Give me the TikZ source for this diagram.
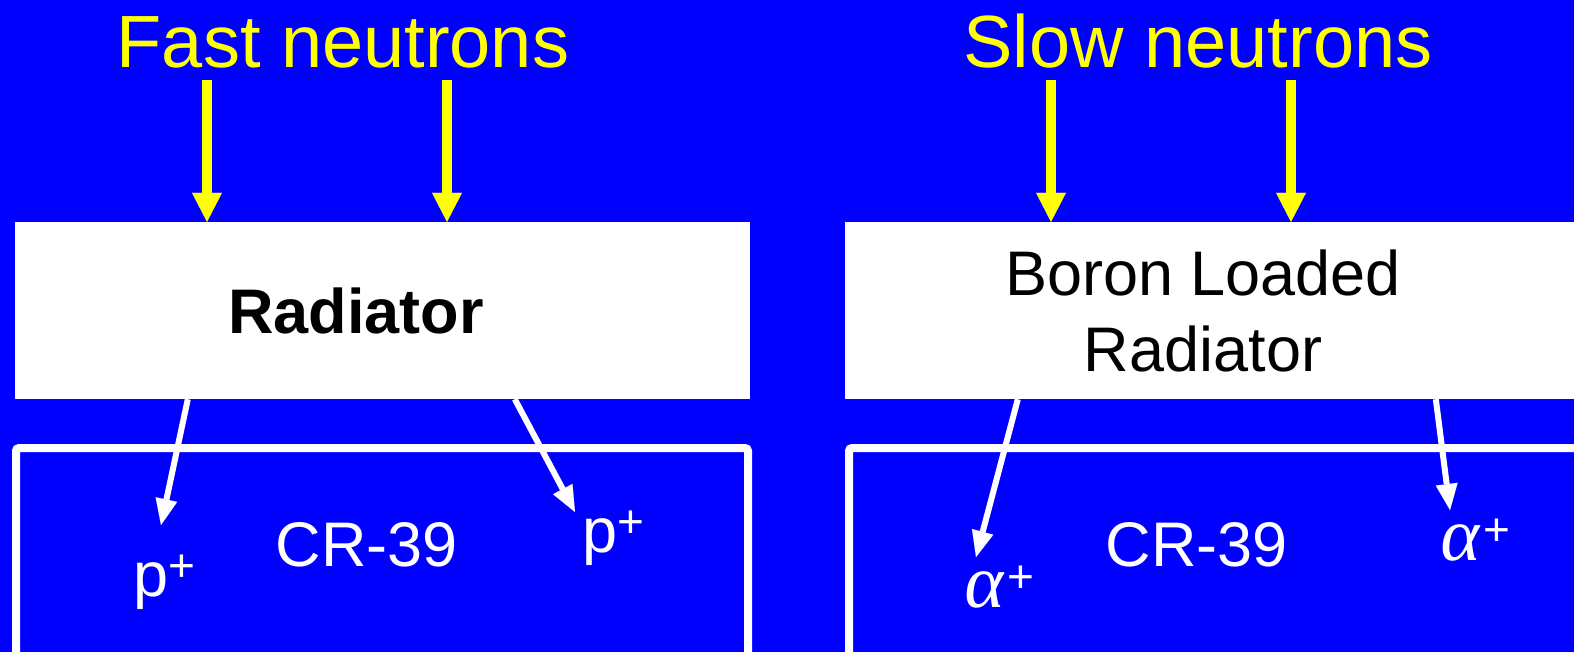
\documentclass[tikz,border=0pt]{standalone}
\usepackage{fontspec}
\setmainfont{Liberation Sans}
\newfontfamily\greekfont[FakeSlant=0.12]{Liberation Serif}
\usetikzlibrary{arrows.meta}
\definecolor{slideblue}{RGB}{0,0,255}
\definecolor{slideyellow}{RGB}{255,255,0}
\newcommand{\ionplus}{\raisebox{15pt}{\fontsize{46}{48}\selectfont +}}
\newcommand{\alphasym}{{\greekfont\fontsize{76}{80}\selectfont α}\kern5pt}
\tikzset{
  radbox/.style={fill=white, inner sep=0pt, minimum height=177pt},
  boxtext/.style={align=center, inner sep=0pt, font=\fontsize{63}{76}\selectfont},
  detbox/.style={draw=white, line width=8pt, rounded corners=3pt},
  inflow/.style={draw=slideyellow, line width=10pt, -{Triangle[length=29pt,width=30pt,line width=0.01pt]}},
  outflow/.style={draw=white, line width=6pt, -{Triangle[length=26pt,width=22pt,line width=0.01pt]}},
  heading/.style={text=slideyellow, font=\fontsize{74}{80}\selectfont, anchor=base, inner sep=0pt},
  lbl/.style={text=white, font=\fontsize{63}{70}\selectfont, inner sep=0pt},
}
\begin{document}
\begin{tikzpicture}[x=1pt,y=-1pt]
\path[use as bounding box, fill=slideblue] (0,0) rectangle (1574,652);
% headings
\node[heading] (t1) at (343,68) {Fast neutrons};
\node[heading] (t2) at (1198,68) {Slow neutrons};
% radiators
\node[radbox, minimum width=735pt] (a) at (382.5,310.5) {};
\node[radbox, minimum width=729pt] (b) at (1209.5,310.5) {};
\node[boxtext, font=\fontsize{63}{76}\selectfont\bfseries] (ta) at (356,310.5) {Radiator};
\node[boxtext] (tb) at (1203,310.5) {Boron Loaded\\Radiator};
% CR-39 detectors
\draw[detbox] (16,448) rectangle (748,720);
\draw[detbox] (849,448) rectangle (1620,720);
\node[lbl] (c1) at (367,545) {CR-39};
\node[lbl] (c2) at (1197,545) {CR-39};
% incoming neutrons
\coordinate (f1) at (207,80);
\coordinate (f2) at (447,80);
\coordinate (s1) at (1051,80);
\coordinate (s2) at (1291,80);
\draw[inflow] (f1) -- (f1 |- a.north);
\draw[inflow] (f2) -- (f2 |- a.north);
\draw[inflow] (s1) -- (s1 |- b.north);
\draw[inflow] (s2) -- (s2 |- b.north);
% outgoing particles
\coordinate (p1) at (161,525);
\coordinate (p2) at (575,512);
\coordinate (q1) at (976,557);
\coordinate (q2) at (1450,510);
\draw[outflow] ([xshift=173pt]a.south west) -- (p1);
\draw[outflow] ([xshift=500pt]a.south west) -- (p2);
\draw[outflow] ([xshift=173pt]b.south west) -- (q1);
\draw[outflow] ([xshift=591pt]b.south west) -- (q2);
\node[lbl, anchor=base west] (l1) at (133,596) {p\ionplus};
\node[lbl, anchor=base west] (l2) at (582,552) {p\ionplus};
\node[lbl, anchor=base west] (l3) at (962,607) {\alphasym\ionplus};
\node[lbl, anchor=base west] (l4) at (1438,560) {\alphasym\ionplus};
\end{tikzpicture}
\end{document}
